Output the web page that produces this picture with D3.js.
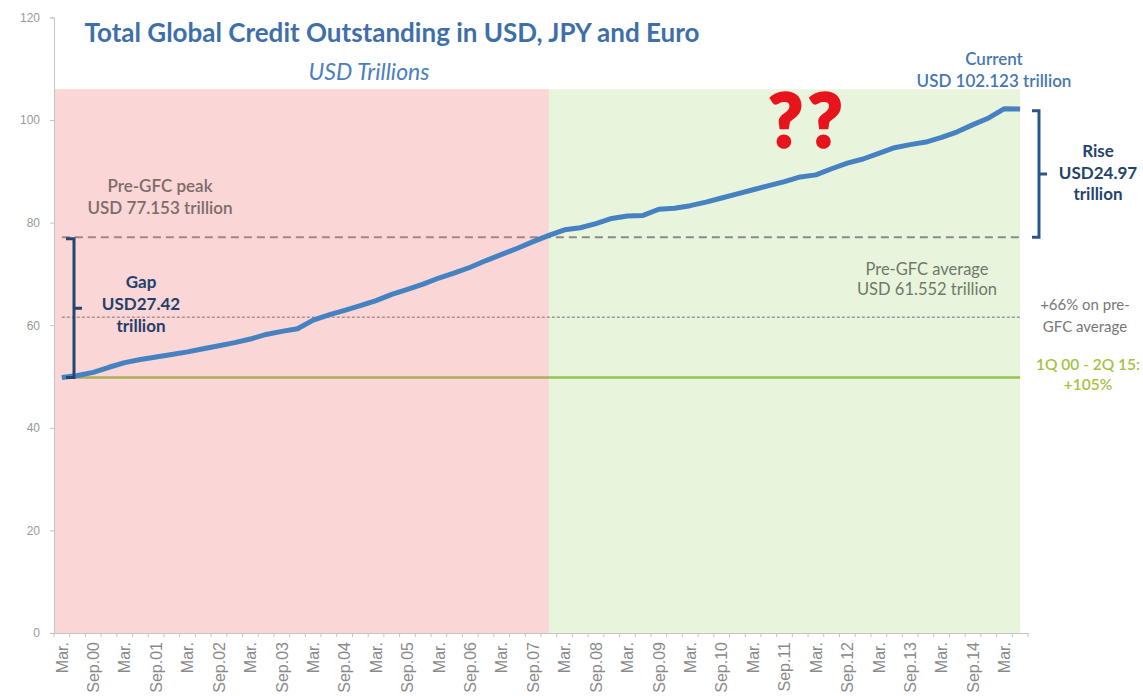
<!DOCTYPE html>
<html>
<head>
<meta charset="utf-8">
<script src="https://cdn.jsdelivr.net/npm/d3@7"></script>
<style>
  body { margin: 0; background: #fff; }
  svg { font-family: Lato, "Open Sans", sans-serif; }
</style>
</head>
<body>
<div id="chart"></div>
<script>
// Quarters Mar.00 .. Jun.15
var years = ["00","01","02","03","04","05","06","07","08","09","10","11","12","13","14","15"];
var months = ["Mar.", "Jun.", "Sep.", "Dec."];
var quarters = [];
years.forEach(function(yy) {
    months.forEach(function(m) {
        if (quarters.length < 62) quarters.push(m + yy);
    });
});

// Total global credit outstanding, USD trillions
var credit = [
    49.8, 50.2, 50.8, 51.8, 52.7, 53.3, 53.8, 54.3, 54.8, 55.4,
    56.0, 56.6, 57.3, 58.2, 58.8, 59.3, 61.0, 62.0, 62.9, 63.8,
    64.8, 66.0, 67.0, 68.0, 69.2, 70.2, 71.3, 72.6, 73.8, 75.0,
    76.3, 77.5, 78.6, 79.0, 79.8, 80.8, 81.3, 81.4, 82.6, 82.8,
    83.3, 84.0, 84.8, 85.6, 86.4, 87.2, 88.0, 88.9, 89.3, 90.5,
    91.6, 92.4, 93.5, 94.6, 95.2, 95.7, 96.6, 97.7, 99.1, 100.4,
    102.2, 102.123
];

var yTicks = [0, 20, 40, 60, 80, 100, 120];
var preGfcPeak = 77.153;
var preGfcAverage = 61.552;
var startLevel = 49.8;
var shadeTop = 106;
// shaded periods: pre-GFC (red) and post-GFC (green), by quarter index
var periods = [
    { name: "pre", from: 0, to: 31 },
    { name: "post", from: 31, to: 61 }
];

var width = 1143, height = 696;

var svg = d3.select("#chart").append("svg")
    .attr("width", width)
    .attr("height", height);

var x = d3.scaleBand().domain(quarters).range([54, 1028]);
var y = d3.scaleLinear().domain([0, 120]).range([633, 17.4]);
function cx(i) { return x(quarters[i]) + x.bandwidth() / 2; }

// green background (post GFC)
var post = periods[1];
svg.append("rect")
    .attr("x", cx(post.from))
    .attr("y", y(shadeTop))
    .attr("width", cx(post.to) - cx(post.from))
    .attr("height", y(0) - y(shadeTop))
    .attr("fill", "#e8f5dc");

// reference lines
function hline(v, color, w, dash) {
    svg.append("line")
        .attr("x1", cx(0)).attr("x2", cx(quarters.length - 1))
        .attr("y1", y(v)).attr("y2", y(v))
        .attr("stroke", color)
        .attr("stroke-width", w)
        .attr("stroke-dasharray", dash);
}
hline(startLevel, "#92c44e", 2.5, null);
hline(preGfcAverage, "#9a9a9a", 1.5, "3,2");
hline(preGfcPeak, "#8a8a8a", 2, "8,5");

// red overlay (pre GFC)
var pre = periods[0];
svg.append("rect")
    .attr("x", x.range()[0] + 1)
    .attr("y", y(shadeTop))
    .attr("width", cx(pre.to) - x.range()[0] - 1)
    .attr("height", y(0) - y(shadeTop))
    .attr("fill", "#ee7676")
    .attr("opacity", 0.3);

// y axis
var yAxis = svg.append("g")
    .attr("transform", "translate(" + x.range()[0] + ",0)")
    .call(d3.axisLeft(y).tickValues(yTicks).tickSize(4).tickPadding(10));
yAxis.select(".domain").attr("stroke", "#c4c4c4");
yAxis.selectAll(".tick line").attr("stroke", "#c4c4c4");
yAxis.selectAll("text").attr("fill", "#999").attr("font-size", "12px");

// x axis, labels on Mar. and Sep.
var xAxis = svg.append("g")
    .attr("transform", "translate(0," + y(0) + ")")
    .call(d3.axisBottom(x)
        .tickValues(quarters.filter(function(d, i) { return i % 2 == 0; }))
        .tickSize(0)
        .tickFormat(function(d) { return d.indexOf("Mar.") == 0 ? "Mar." : d; }));
xAxis.select(".domain").attr("stroke", "#c4c4c4");
xAxis.selectAll("text")
    .attr("transform", "rotate(-90)")
    .attr("text-anchor", "end")
    .attr("x", -9)
    .attr("y", 0)
    .attr("dy", "0.36em")
    .attr("fill", "#8a8a8a")
    .attr("font-size", "16px");
// small ticks between quarters
xAxis.selectAll(".qtick")
    .data(quarters.concat(["end"]))
    .enter().append("line")
        .attr("class", "qtick")
        .attr("x1", function(d) { return d == "end" ? x.range()[1] : x(d); })
        .attr("x2", function(d) { return d == "end" ? x.range()[1] : x(d); })
        .attr("y1", 0).attr("y2", 4)
        .attr("stroke", "#c4c4c4");

// the credit line
var line = d3.line()
    .x(function(d, i) { return cx(i); })
    .y(function(d) { return y(d); });
svg.append("path")
    .datum(credit)
    .attr("d", line)
    .attr("fill", "none")
    .attr("stroke", "#4682c2")
    .attr("stroke-width", 5)
    .attr("stroke-linejoin", "round");

// brackets
function bracket(bx, v1, v2, hook, tick, color) {
    var y1 = y(v1), y2 = y(v2), ym = (y1 + y2) / 2;
    svg.append("path")
        .attr("d", "M" + (bx + hook) + "," + y1 + " H" + bx + " V" + y2 + " H" + (bx + hook)
            + " M" + bx + "," + ym + " H" + (bx + tick))
        .attr("fill", "none")
        .attr("stroke", color)
        .attr("stroke-width", 3);
}
bracket(74, preGfcPeak - 0.3, startLevel, -8, 8, "#22466f");
bracket(1039, credit[credit.length - 1] - 0.3, preGfcPeak, -7, 8, "#2c5689");

// texts
function label(tx, ty, lines, size, lh, color, weight, style) {
    var t = svg.append("text")
        .attr("x", tx).attr("y", ty)
        .attr("text-anchor", "middle")
        .attr("font-size", size + "px")
        .attr("fill", color)
        .attr("font-weight", weight || "normal")
        .attr("font-style", style || "normal");
    lines.forEach(function(s, i) {
        t.append("tspan").attr("x", tx).attr("dy", i == 0 ? 0 : lh).text(s);
    });
    return t;
}
label(392, 42, ["Total Global Credit Outstanding in USD, JPY and Euro"], 26, 0, "#3f6fa8", "bold");
label(369, 80, ["USD Trillions"], 23, 0, "#4a7ec2", "normal", "italic");
label(994, 65, ["Current", "USD 102.123 trillion"], 17, 22, "#4677b4", "600");
label(808, 147, ["??"], 74, 0, "#e8141b", "900")
    .attr("letter-spacing", 5)
    .attr("stroke", "#e8141b")
    .attr("stroke-width", 2.5);
label(1098, 157, ["Rise", "USD24.97", "trillion"], 17, 21.5, "#24446c", "bold");
label(160, 192, ["Pre-GFC peak", "USD 77.153 trillion"], 17, 22, "#7d6b6b", "600");
label(141, 288, ["Gap", "USD27.42", "trillion"], 17, 22, "#22406a", "bold");
label(927, 275, ["Pre-GFC average", "USD 61.552 trillion"], 16.5, 20, "#6f786a", "normal");
label(1085, 310, ["+66% on pre-", "GFC average"], 15, 22, "#777", "normal");
label(1088, 370, ["1Q 00 - 2Q 15:", "+105%"], 15.5, 20, "#a5c243", "600");
</script>
</body>
</html>
